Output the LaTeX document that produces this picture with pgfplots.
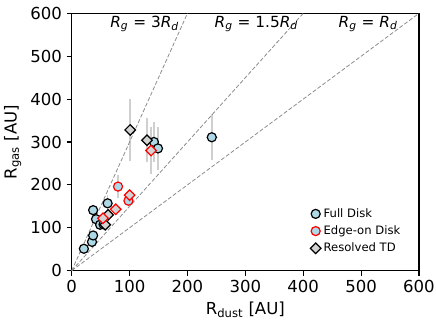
\documentclass[border=0pt]{standalone}
\usepackage{fontspec}
\setmainfont{DejaVu Sans}
\usepackage{pgfplots}
\usepackage{pgfplotstable}
\pgfplotsset{compat=1.18}
\definecolor{diskblue}{HTML}{ADD8E6}
\definecolor{tdgray}{HTML}{D3D3D3}
\definecolor{errgray}{HTML}{CFCFCF}
\definecolor{guide}{HTML}{8C8C8C}

% R_dust, R_gas, errors
\pgfplotstableread{
x y ey ex
101 328 72 0
130 304 51 0
137 280 55 0
142 300 47 0
149 285 51 0
242 311 54 10
80 196 27 0
62 157 19 0
}\errdata

\pgfplotstableread{
x y
21 51
35 67
37 82
37 141
42 120
49 107
55 108
62 157
142 300
149 285
242 311
}\fulldisk

\pgfplotstableread{
x y
80 196
98 163
}\edgeon

\pgfplotstableread{
x y
63 130
58 107
101 328
130 304
}\restd

\pgfplotstableread{
x y
54 122
76 143
100 176
137 280
}\edgetd

\begin{document}
\begin{tikzpicture}
\begin{axis}[
  scale only axis,
  width=260.5pt, height=193pt,
  xmin=0, xmax=600, ymin=0, ymax=600,
  xtick={0,100,...,600}, ytick={0,100,...,600},
  tick align=outside, tick pos=left,
  major tick length=3.75pt,
  every tick/.style={black, line width=0.8pt},
  axis line style={line width=1pt},
  ticklabel style={font=\fontsize{12.4}{14}\selectfont},
  /pgf/number format/assume math mode=true,
  label style={font=\fontsize{12.4}{14}\selectfont},
  xlabel={R\textsubscript{dust} [AU]},
  ylabel={R\textsubscript{gas} [AU]},
  legend style={draw=none, fill=none, at={(axis cs:405,158)}, anchor=north west,
    font=\fontsize{8.7}{10}\selectfont, row sep=0.8pt},
  legend cell align=left,
  clip=false,
]
\addplot[forget plot, draw=none, mark=none,
  error bars/.cd, y dir=both, y explicit, x dir=both, x explicit,
  error mark=none, error bar style={draw=errgray, line width=1.1pt}]
  table[x=x, y=y, y error=ey, x error=ex] {\errdata};

\addplot[forget plot, guide, line width=0.6pt, dash pattern=on 3pt off 1.5pt] coordinates {(0,0) (200,600)};
\addplot[forget plot, guide, line width=0.6pt, dash pattern=on 3pt off 1.5pt] coordinates {(0,0) (400,600)};
\addplot[forget plot, guide, line width=0.6pt, dash pattern=on 3pt off 1.5pt] coordinates {(0,0) (600,600)};

\addplot[only marks, mark=*, mark size=3.4pt,
  mark options={fill=diskblue, draw=black, line width=0.9pt}] table {\fulldisk};
\addlegendentry{Full Disk}
\addplot[only marks, mark=*, mark size=3.4pt,
  mark options={fill=diskblue, draw=red, line width=0.9pt}] table {\edgeon};
\addlegendentry{Edge-on Disk}
\addplot[only marks, mark=square*, mark size=2.8pt,
  mark options={rotate=45, fill=tdgray, draw=black, line width=0.9pt}] table {\restd};
\addlegendentry{Resolved TD}
\addplot[forget plot, only marks, mark=square*, mark size=2.8pt,
  mark options={rotate=45, fill=tdgray, draw=red, line width=0.9pt}] table {\edgetd};

\node[font=\fontsize{11.5}{14}\selectfont] at (axis cs:126,575) {{\itshape R\textsubscript{g}} = 3{\itshape R\textsubscript{d}}};
\node[font=\fontsize{11.5}{14}\selectfont] at (axis cs:319,575) {{\itshape R\textsubscript{g}} = 1.5{\itshape R\textsubscript{d}}};
\node[font=\fontsize{11.5}{14}\selectfont] at (axis cs:512,575) {{\itshape R\textsubscript{g}} = {\itshape R\textsubscript{d}}};
\end{axis}
\pgfresetboundingbox
\path[use as bounding box] (-53.8pt,-41.5pt) rectangle (273.25pt,203pt);
\end{tikzpicture}
\end{document}
